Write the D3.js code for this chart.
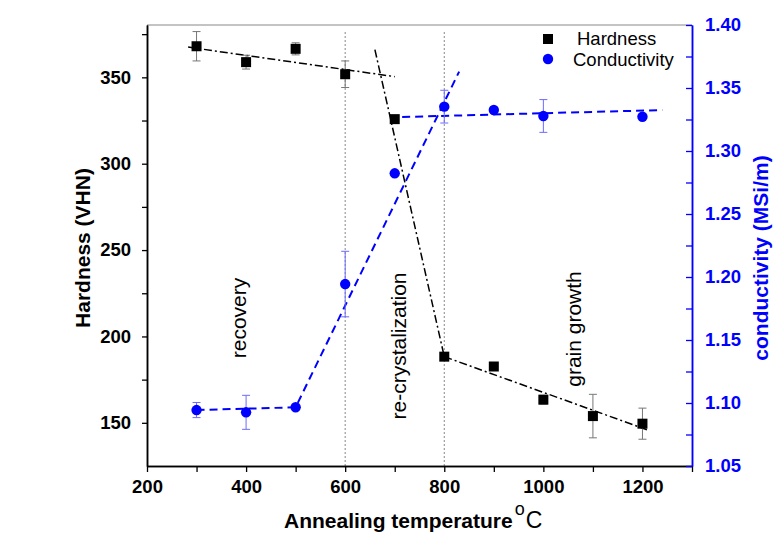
<!DOCTYPE html>
<html>
<head>
<meta charset="utf-8">
<script src="https://cdn.jsdelivr.net/npm/d3@7"></script>
<style>
  body { margin: 0; background: #fff; }
  svg { font-family: "Liberation Sans", Arial, sans-serif; }
</style>
</head>
<body>
<svg id="chart" width="775" height="533"></svg>
<script>
// data
var hardTemps = [300, 400, 500, 600, 700, 800, 900, 1000, 1100, 1200];
var hardness = [368, 358.8, 366.5, 351.8, 325.8, 188.3, 182.6, 163.4, 153.9, 149.5];
var hardErr = [8.5, 4, 3.5, 7.7, 0, 2, 0, 2.5, 12.6, 9];

var condTemps = [300, 400, 500, 600, 700, 800, 900, 1000, 1200];
var conductivity = [1.0944, 1.0926, 1.0966, 1.1944, 1.2823, 1.3352, 1.3325, 1.3278, 1.3272];
var condErr = [0.006, 0.0135, 0, 0.026, 0, 0.013, 0, 0.013, 0];

// fitted trend lines [temp, value]
var hardFits = [
	[[283, 367.5], [700, 350.4]],
	[[660, 366], [800, 188.3]],
	[[800, 188.3], [1209, 146]]
];
var condFits = [
	[[300, 1.0944], [500, 1.0966], [830, 1.363]],
	[[715, 1.327], [1240, 1.3325]]
];

var phaseTemps = [600, 800];
var phases = [
	{label: "recovery", x: 246, y: 318},
	{label: "re-crystalization", x: 406, y: 346},
	{label: "grain growth", x: 581, y: 329}
];

var xTicks = [200, 400, 600, 800, 1000, 1200];
var xMinor = [300, 500, 700, 900, 1100, 1300];
var hTicks = [150, 200, 250, 300, 350];
var hMinor = [175, 225, 275, 325, 375];
var cTicks = [1.05, 1.10, 1.15, 1.20, 1.25, 1.30, 1.35, 1.40];
var cMinor = [1.075, 1.125, 1.175, 1.225, 1.275, 1.325, 1.375];

var svg = d3.select("#chart");
var L = 147, R = 692, T = 25, B = 466;
var blue = "#0000ff";

var x = d3.scaleLinear().domain([200, 1300]).range([L, R]);
var yH = d3.scaleLinear().domain([125, 380.3]).range([B, T]);
var yC = d3.scaleLinear().domain([1.05, 1.40]).range([B, T]);

// top frame line
svg.append("line")
	.attr("x1", L).attr("x2", R).attr("y1", T).attr("y2", T)
	.attr("stroke", "#888").attr("stroke-width", 1);

// phase boundaries
svg.selectAll(".phase")
	.data(phaseTemps)
	.enter().append("line")
	.attr("x1", d => x(d)).attr("x2", d => x(d))
	.attr("y1", 32).attr("y2", B)
	.attr("stroke", "#888").attr("stroke-width", 1)
	.attr("stroke-dasharray", "2,2");

// axes
function styleAxis(g, color, size) {
	g.select(".domain").attr("stroke", color).attr("stroke-width", 1.5);
	g.selectAll(".tick line").attr("stroke", color).attr("stroke-width", 1.3);
	g.selectAll(".tick text")
		.attr("fill", color)
		.attr("font-size", size)
		.attr("font-weight", "bold")
		.attr("font-family", "'Liberation Sans', Arial, sans-serif");
}

var gx = svg.append("g").attr("transform", "translate(0," + B + ")")
	.call(d3.axisBottom(x).tickValues(xTicks).tickSize(6).tickPadding(8)
		.tickFormat(d3.format("d")).tickSizeOuter(0));
styleAxis(gx, "#000", 18.5);
var gxm = svg.append("g").attr("transform", "translate(0," + B + ")")
	.call(d3.axisBottom(x).tickValues(xMinor).tickSize(6).tickFormat("").tickSizeOuter(0));
styleAxis(gxm, "#000", 18.5);

var gl = svg.append("g").attr("transform", "translate(" + L + ",0)")
	.call(d3.axisLeft(yH).tickValues(hTicks).tickSize(5).tickPadding(11).tickSizeOuter(0));
styleAxis(gl, "#000", 18.5);
var glm = svg.append("g").attr("transform", "translate(" + L + ",0)")
	.call(d3.axisLeft(yH).tickValues(hMinor).tickSize(5).tickFormat("").tickSizeOuter(0));
styleAxis(glm, "#000", 18.5);

var gr = svg.append("g").attr("transform", "translate(" + R + ",0)")
	.call(d3.axisRight(yC).tickValues(cTicks).tickSize(-6).tickPadding(13)
		.tickFormat(d3.format(".2f")).tickSizeOuter(0));
styleAxis(gr, blue, 18.5);
var grm = svg.append("g").attr("transform", "translate(" + R + ",0)")
	.call(d3.axisRight(yC).tickValues(cMinor).tickSize(-6).tickFormat("").tickSizeOuter(0));
styleAxis(grm, blue, 18.5);

// trend lines
var lineH = d3.line().x(d => x(d[0])).y(d => yH(d[1]));
var lineC = d3.line().x(d => x(d[0])).y(d => yC(d[1]));

svg.selectAll(".hfit")
	.data(hardFits)
	.enter().append("path")
	.attr("d", lineH)
	.attr("fill", "none")
	.attr("stroke", "#000")
	.attr("stroke-width", 1.5)
	.attr("stroke-dasharray", "8,3,2,3");

svg.selectAll(".cfit")
	.data(condFits)
	.enter().append("path")
	.attr("d", lineC)
	.attr("fill", "none")
	.attr("stroke", blue)
	.attr("stroke-width", 2)
	.attr("stroke-dasharray", "8,5");

// error bars
var hData = hardTemps.map((t, i) => ({t: t, v: hardness[i], e: hardErr[i]}));
var cData = condTemps.map((t, i) => ({t: t, v: conductivity[i], e: condErr[i]}));

function errorBars(data, y, color) {
	var g = svg.append("g").attr("stroke", color).attr("stroke-width", 1);
	data.filter(d => d.e > 0).forEach(function(d) {
		var cx = x(d.t);
		g.append("line").attr("x1", cx).attr("x2", cx)
			.attr("y1", y(d.v - d.e)).attr("y2", y(d.v + d.e));
		[d.v - d.e, d.v + d.e].forEach(function(v) {
			g.append("line").attr("x1", cx - 4).attr("x2", cx + 4)
				.attr("y1", y(v)).attr("y2", y(v));
		});
	});
}
errorBars(hData, yH, "#777");
errorBars(cData, yC, "#6b6bff");

// markers
svg.selectAll(".sq")
	.data(hData)
	.enter().append("rect")
	.attr("x", d => x(d.t) - 5)
	.attr("y", d => yH(d.v) - 5)
	.attr("width", 10).attr("height", 10)
	.attr("fill", "#000");

svg.selectAll(".dot")
	.data(cData)
	.enter().append("circle")
	.attr("cx", d => x(d.t))
	.attr("cy", d => yC(d.v))
	.attr("r", 5.2)
	.attr("fill", blue);

// phase labels
svg.selectAll(".plabel")
	.data(phases)
	.enter().append("text")
	.attr("transform", d => "translate(" + d.x + "," + d.y + ") rotate(-90)")
	.attr("text-anchor", "middle")
	.attr("font-size", 21)
	.attr("fill", "#000")
	.text(d => d.label);

// legend
svg.append("rect").attr("x", 543).attr("y", 34).attr("width", 10).attr("height", 10).attr("fill", "#000");
svg.append("text").attr("x", 577).attr("y", 45).attr("font-size", 18.5).text("Hardness");
svg.append("circle").attr("cx", 548).attr("cy", 59).attr("r", 5.2).attr("fill", blue);
svg.append("text").attr("x", 573).attr("y", 66).attr("font-size", 18.5).text("Conductivity");

// axis titles
svg.append("text")
	.attr("transform", "translate(90," + 248 + ") rotate(-90)")
	.attr("text-anchor", "middle")
	.attr("font-size", 21).attr("font-weight", "bold")
	.text("Hardness (VHN)");

svg.append("text")
	.attr("transform", "translate(768," + 258 + ") rotate(-90)")
	.attr("text-anchor", "middle")
	.attr("font-size", 21).attr("font-weight", "bold")
	.attr("fill", blue)
	.text("conductivity (MSi/m)");

var xt = svg.append("text").attr("x", 284).attr("y", 528).attr("font-size", 21);
xt.append("tspan").attr("font-weight", "bold").text("Annealing temperature");
xt.append("tspan").attr("font-size", 18).attr("dx", 2).attr("dy", -13).text("o");
xt.append("tspan").attr("font-size", 23).attr("dx", 1).attr("dy", 13).text("C");
</script>
</body>
</html>
